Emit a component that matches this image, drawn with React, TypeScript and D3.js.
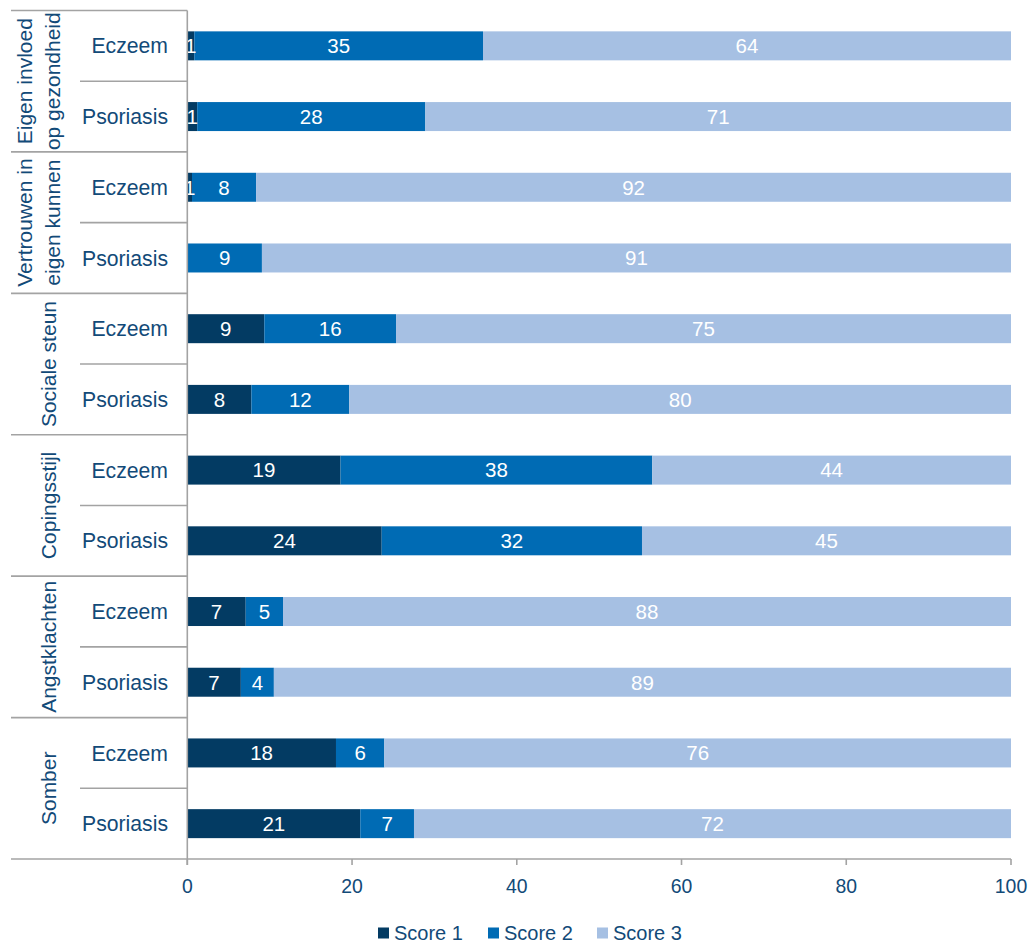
import React from 'react';
import * as d3 from 'd3';

const groupLabels: string[][] = [
  ['Eigen invloed', 'op gezondheid'],
  ['Vertrouwen in', 'eigen kunnen'],
  ['Sociale steun'],
  ['Copingsstijl'],
  ['Angstklachten'],
  ['Somber'],
];
const subCategories = ['Eczeem', 'Psoriasis'];
const seriesNames = ['Score 1', 'Score 2', 'Score 3'];
const score1 = [0.85, 1.2, 0.57, 0, 9.35, 7.78, 18.6, 23.6, 7.09, 6.5, 18.05, 21.0];
const score2 = [35.05, 27.7, 7.78, 9.06, 15.99, 11.89, 37.85, 31.6, 4.53, 4.01, 5.87, 6.52];
const score3 = [64.1, 71.1, 91.65, 90.94, 74.66, 80.33, 43.55, 44.8, 88.38, 89.49, 76.08, 72.48];
const xTicks = [0, 20, 40, 60, 80, 100];

const colors = ['#033b63', '#006bb4', '#a6c0e3'];
const textColor = '#124a78';
const lineColor = '#a3a3a3';
const font = '"Liberation Sans", Arial, sans-serif';

export default function App() {
  const W = 1030;
  const H = 942;
  const x0 = 187.3;
  const x1 = 1011;
  const yTop = 10.5;
  const yBot = 859;

  const rows = groupLabels.flatMap((_, g) => subCategories.map((s, j) => ({ key: g * 2 + j, sub: s })));
  const table = rows.map((r, i) => ({ key: r.key, s0: score1[i], s1: score2[i], s2: score3[i] }));
  const stack = d3.stack<any>().keys(['s0', 's1', 's2']);
  const stacked = stack(table);

  const x = d3.scaleLinear().domain([0, 100]).range([x0, x1]);
  const y = d3
    .scaleBand<number>()
    .domain(rows.map((r) => r.key))
    .range([yTop, yBot])
    .paddingInner(0.59)
    .paddingOuter(0.295);
  const step = y.step();
  const bh = y.bandwidth();

  return (
    <svg
      width={W}
      height={H}
      style={{ position: 'absolute', left: 0, top: 0, display: 'block' }}
      fontFamily={font}
    >
      <rect width={W} height={H} fill="#fff" />
      {/* bars */}
      {stacked.map((series, si) => (
        <g key={si} fill={colors[si]}>
          {series.map((d, i) => {
            const v = d[1] - d[0];
            if (v <= 0) return null;
            return (
              <rect
                key={i}
                x={x(d[0])}
                y={y(rows[i].key)}
                width={x(d[1]) - x(d[0])}
                height={bh}
              />
            );
          })}
        </g>
      ))}
      {/* value labels */}
      {stacked.map((series, si) => (
        <g key={'l' + si} fill="#fff" fontSize={20.5} textAnchor="middle">
          {series.map((d, i) => {
            const v = d[1] - d[0];
            if (v <= 0) return null;
            return (
              <text
                key={i}
                x={x((d[0] + d[1]) / 2)}
                y={(y(rows[i].key) as number) + bh / 2}
                dy="0.36em"
              >
                {Math.round(v)}
              </text>
            );
          })}
        </g>
      ))}
      {/* category separators */}
      {groupLabels.map((_, g) => (
        <line
          key={'gs' + g}
          x1={11}
          x2={x0}
          y1={yTop + g * 2 * step}
          y2={yTop + g * 2 * step}
          stroke={lineColor}
          strokeWidth={1.6}
        />
      ))}
      <line x1={11} x2={x0} y1={yBot} y2={yBot} stroke={lineColor} strokeWidth={1.6} />
      {groupLabels.map((_, g) => (
        <line
          key={'ss' + g}
          x1={80}
          x2={x0}
          y1={yTop + (2 * g + 1) * step}
          y2={yTop + (2 * g + 1) * step}
          stroke={lineColor}
          strokeWidth={1.6}
        />
      ))}
      {/* axes */}
      <line x1={x0} x2={x0} y1={yTop} y2={yBot + 6} stroke={lineColor} strokeWidth={1.6} />
      <line x1={x0} x2={x1} y1={yBot} y2={yBot} stroke={lineColor} strokeWidth={1.6} />
      {xTicks.map((t) => (
        <g key={'t' + t}>
          <line x1={x(t)} x2={x(t)} y1={yBot} y2={yBot + 6} stroke={lineColor} strokeWidth={1.6} />
          <text x={x(t)} y={892.5} fontSize={19.4} fill={textColor} textAnchor="middle">
            {t}
          </text>
        </g>
      ))}
      {/* sub category labels */}
      {rows.map((r) => (
        <text
          key={'c' + r.key}
          x={168}
          y={(y(r.key) as number) + bh / 2}
          dy="0.36em"
          fontSize={21.2}
          fill={textColor}
          textAnchor="end"
        >
          {r.sub}
        </text>
      ))}
      {/* group labels */}
      {groupLabels.map((lines, g) => {
        const cy = yTop + (2 * g + 1) * step;
        const xs = lines.length === 1 ? [56] : [32, 60];
        return lines.map((ln, k) => (
          <text
            key={'g' + g + '_' + k}
            transform={`translate(${xs[k]},${cy}) rotate(-90)`}
            fontSize={21}
            fill={textColor}
            textAnchor="middle"
          >
            {ln}
          </text>
        ));
      })}
      {/* legend */}
      {seriesNames.map((n, i) => {
        const lx = [378, 488, 597][i];
        return (
          <g key={'lg' + i}>
            <rect x={lx} y={927.5} width={11} height={11} fill={colors[i]} />
            <text x={lx + 16} y={939.5} fontSize={20} fill={textColor}>
              {n}
            </text>
          </g>
        );
      })}
    </svg>
  );
}
